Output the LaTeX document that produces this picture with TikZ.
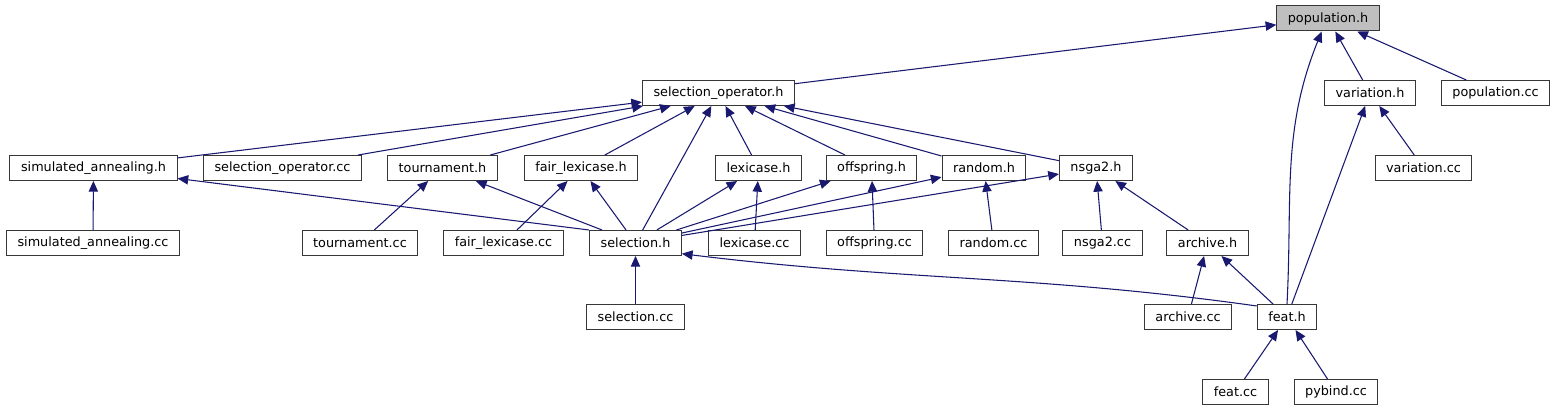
\documentclass[tikz,border=0pt]{standalone}
\usepackage{fontspec}
\setmainfont{DejaVu Sans}
\usetikzlibrary{arrows.meta}
\definecolor{edgeBlue}{RGB}{25,25,112}
\definecolor{boxBorder}{RGB}{55,55,55}
\definecolor{rootGray}{RGB}{191,191,191}

\begin{document}
\begin{tikzpicture}[x=0.75pt, y=0.75pt,
    file/.style={draw=boxBorder, line width=0.75pt, fill=white, inner xsep=8.3pt, inner ysep=0pt, minimum height=18.75pt, font=\fontsize{9.6}{11}\selectfont},
    incl/.style={draw=edgeBlue, line width=0.8pt, -{Triangle[length=8pt, width=7pt]}}]
    \useasboundingbox (0,0) rectangle (1556,411);
    % first and second row
    \node[file, fill=rootGray] (pop) at (1328,392.5) {population.h};
    \node[file] (selop) at (718.5,318) {selection\_operator.h};
    \node[file] (varh) at (1370,318) {variation.h};
    \node[file] (popcc) at (1495.5,318) {population.cc};
    % third row
    \node[file] (sah) at (93.5,243) {simulated\_annealing.h};
    \node[file] (selopcc) at (282.5,243) {selection\_operator.cc};
    \node[file] (tourh) at (442.5,243) {tournament.h};
    \node[file] (flh) at (581,243) {fair\_lexicase.h};
    \node[file] (lexh) at (758.5,243) {lexicase.h};
    \node[file] (offh) at (871.5,243) {offspring.h};
    \node[file] (randh) at (984,243) {random.h};
    \node[file] (nsgah) at (1096,243) {nsga2.h};
    \node[file] (varcc) at (1423.5,243) {variation.cc};
    % fourth row
    \node[file] (sacc) at (93,168) {simulated\_annealing.cc};
    \node[file] (tourcc) at (360,168) {tournament.cc};
    \node[file] (flcc) at (503.5,168) {fair\_lexicase.cc};
    \node[file] (selh) at (635.5,168) {selection.h};
    \node[file] (lexcc) at (754.5,168) {lexicase.cc};
    \node[file] (offcc) at (874.5,168) {offspring.cc};
    \node[file] (randcc) at (993.5,168) {random.cc};
    \node[file] (nsgacc) at (1102.5,168) {nsga2.cc};
    \node[file] (archh) at (1207.5,168) {archive.h};
    % bottom rows
    \node[file] (selcc) at (635.5,94) {selection.cc};
    \node[file] (archcc) at (1188,94) {archive.cc};
    \node[file] (feath) at (1287,94) {feat.h};
    \node[file] (featcc) at (1235.5,19) {feat.cc};
    \node[file] (pybcc) at (1336,19) {pybind.cc};

    % includes of population.h
    \draw[incl] (selop) -- (pop);
    \draw[incl] (varh) -- (pop);
    \draw[incl] (popcc) -- (pop);
    \draw[incl] (feath.north) to[out=87, in=-112] (pop.-116);
    \draw[incl] (varcc) -- (varh);
    \draw[incl] (feath) -- (varh);
    % includes of selection_operator.h
    \draw[incl] (sah) -- (selop);
    \draw[incl] (selopcc) -- (selop);
    \draw[incl] (tourh) -- (selop);
    \draw[incl] (flh) -- (selop);
    \draw[incl] (selh) -- (selop);
    \draw[incl] (lexh) -- (selop);
    \draw[incl] (offh) -- (selop);
    \draw[incl] (randh) -- (selop);
    \draw[incl] (nsgah) -- (selop);
    % operators
    \draw[incl] (sacc) -- (sah);
    \draw[incl] (selh.north west) -- (sah);
    \draw[incl] (tourcc) -- (tourh);
    \draw[incl] (selh) -- (tourh);
    \draw[incl] (flcc) -- (flh);
    \draw[incl] (selh) -- (flh);
    \draw[incl] (selh) -- (lexh);
    \draw[incl] (lexcc) -- (lexh);
    \draw[incl] (selh) -- (offh);
    \draw[incl] (offcc) -- (offh);
    \draw[incl] (selh) -- (randh);
    \draw[incl] (randcc) -- (randh);
    \draw[incl] (selh) -- (nsgah);
    \draw[incl] (nsgacc) -- (nsgah);
    \draw[incl] (archh) -- (nsgah);
    \draw[incl] (archcc) -- (archh);
    \draw[incl] (feath) -- (archh);
    % selection.h and feat.h
    \draw[incl] (selcc) -- (selh);
    \draw[incl] (feath.160) to[out=172, in=-7] (selh.-13);
    \draw[incl] (featcc) -- (feath);
    \draw[incl] (pybcc) -- (feath);
\end{tikzpicture}
\end{document}
